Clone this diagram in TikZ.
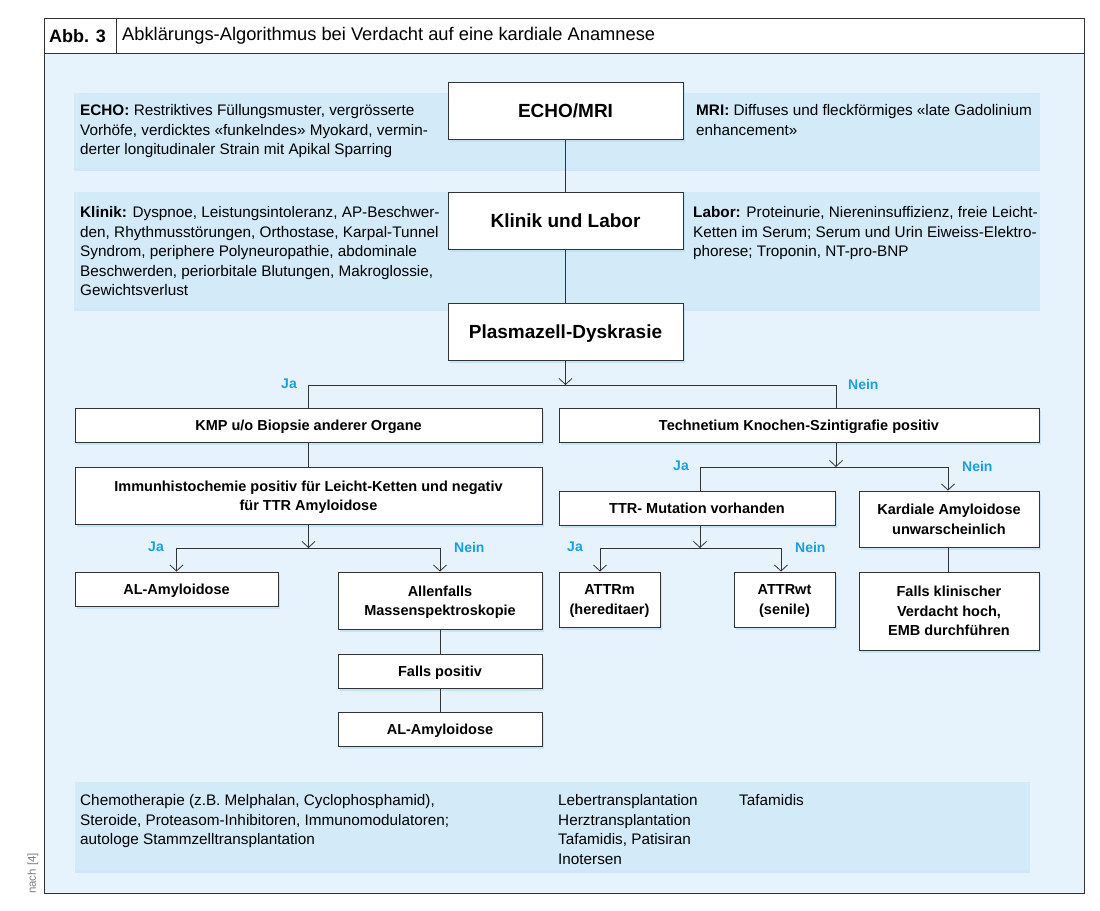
\documentclass[tikz,border=0pt]{standalone}
\usepackage{fontspec}
\setmainfont{Liberation Sans}
\usetikzlibrary{arrows.meta,shadows}
\definecolor{bgblue}{HTML}{E6F3FC}
\definecolor{panelblue}{HTML}{D3EAF9}
\definecolor{shadowblue}{HTML}{B9DDF6}
\definecolor{labblue}{HTML}{1A9FE0}
\definecolor{linegray}{HTML}{333333}
\begin{document}
\begin{tikzpicture}[x=1pt,y=-1pt,
  box/.style={draw=linegray, line width=0.9pt, fill=white, align=center,
    font=\bfseries\fontsize{14.5}{19.5}\selectfont, inner sep=0pt, text depth=0pt,
    drop shadow={shadow xshift=2pt,shadow yshift=-3pt,fill=shadowblue,opacity=0.7}},
  bigbox/.style={box, font=\bfseries\fontsize{19}{22}\selectfont},
  conn/.style={draw=linegray, line width=0.8pt},
  arr/.style={conn, -{Straight Barb[length=6pt,width=13pt]}},
  lab/.style={text=labblue, font=\bfseries\fontsize{14}{16}\selectfont, inner sep=0pt},
  ptext/.style={anchor=north west, align=left, inner sep=0pt, font=\fontsize{15.3}{19.5}\selectfont},
  panel/.style={fill=panelblue, draw=none,
    drop shadow={shadow xshift=0pt,shadow yshift=-3pt,fill=shadowblue,opacity=0.5}}
]
\useasboundingbox (0,0) rectangle (1100,910);
\fill[white] (0,0) rectangle (1100,910);
% frame
\draw[linegray, line width=1pt, fill=bgblue] (44,53) rectangle (1084,893);
\draw[linegray, line width=1pt, fill=white] (44,18) rectangle (1084,53);
\draw[linegray, line width=1pt] (116,18) -- (116,53);
\node[anchor=west, inner sep=0pt, font=\bfseries\fontsize{18}{20}\selectfont] (abb) at (49,36) {Abb. 3};
\node[anchor=west, inner sep=0pt, font=\fontsize{18.3}{20}\selectfont] (title) at (122,36) {Abklärungs-Algorithmus bei Verdacht auf eine kardiale Anamnese};
\node[rotate=90, anchor=west, inner sep=0pt, text=gray, font=\fontsize{11.5}{12}\selectfont] (src) at (33,894) {nach [4]};

% panels
\path[panel] (74,93) rectangle (1040,168);
\path[panel] (74,192) rectangle (1040,308);
\path[panel] (75,782) rectangle (1030,870);

\node[ptext] (echotxt) at (80,104.5) {\textbf{ECHO:} Restriktives Füllungsmuster, vergrösserte\\Vorhöfe, verdicktes «funkelndes» Myokard, vermin-\\derter longitudinaler Strain mit Apikal Sparring};
\node[ptext] (mritxt) at (696,104.5) {\textbf{MRI:} Diffuses und fleckförmiges «late Gadolinium\\enhancement»};
\node[ptext] (klintxt) at (80,206.5) {\textbf{Klinik:} Dyspnoe, Leistungsintoleranz, AP-Beschwer-\\den, Rhythmusstörungen, Orthostase, Karpal-Tunnel\\Syndrom, periphere Polyneuropathie, abdominale\\Beschwerden, periorbitale Blutungen, Makroglossie,\\Gewichtsverlust};
\node[ptext] (labtxt) at (693,206.5) {\textbf{Labor:} Proteinurie, Niereninsuffizienz, freie Leicht-\\Ketten im Serum; Serum und Urin Eiweiss-Elektro-\\phorese; Troponin, NT-pro-BNP};
\node[ptext] (th1) at (80,794.5) {Chemotherapie (z.B. Melphalan, Cyclophosphamid),\\Steroide, Proteasom-Inhibitoren, Immunomodulatoren;\\autologe Stammzelltransplantation};
\node[ptext] (th2) at (558,794.5) {Lebertransplantation\\Herztransplantation\\Tafamidis, Patisiran\\Inotersen};
\node[ptext] (th3) at (739,794.5) {Tafamidis};

% boxes
\node[bigbox, minimum width=235pt, minimum height=57pt] (echo) at (565.5,110.5) {ECHO/MRI};
\node[bigbox, minimum width=235pt, minimum height=57pt] (klinik) at (565.5,220.5) {Klinik und Labor};
\node[bigbox, minimum width=235pt, minimum height=57pt] (plasma) at (565.5,331.5) {Plasmazell-Dyskrasie};
\node[box, minimum width=467pt, minimum height=34pt] (kmp) at (308.5,425) {KMP u/o Biopsie anderer Organe};
\node[box, minimum width=480pt, minimum height=34pt] (tech) at (799,425) {Technetium Knochen-Szintigrafie positiv};
\node[box, minimum width=467pt, minimum height=57pt] (immun) at (308.5,495.5) {Immunhistochemie positiv für Leicht-Ketten und negativ\\für TTR Amyloidose};
\node[box, minimum width=276pt, minimum height=34pt] (ttr) at (697,508) {TTR- Mutation vorhanden};
\node[box, minimum width=180pt, minimum height=56pt] (kard) at (949,519) {Kardiale Amyloidose\\unwarscheinlich};
\node[box, minimum width=203pt, minimum height=34pt] (al1) at (176.5,589) {AL-Amyloidose};
\node[box, minimum width=204pt, minimum height=57pt] (allen) at (440,600.5) {Allenfalls\\Massenspektroskopie};
\node[box, minimum width=204pt, minimum height=34pt] (falls) at (440,671) {Falls positiv};
\node[box, minimum width=204pt, minimum height=34pt] (al2) at (440,729) {AL-Amyloidose};
\node[box, minimum width=101pt, minimum height=55pt] (attrm) at (609.5,599.5) {ATTRm\\(hereditaer)};
\node[box, minimum width=101pt, minimum height=55pt] (attrwt) at (784.5,599.5) {ATTRwt\\(senile)};
\node[box, minimum width=180pt, minimum height=78pt] (fallsk) at (949,611) {Falls klinischer\\Verdacht hoch,\\EMB durchführen};

% branch coordinates
\coordinate (b1) at (565.5,385);
\coordinate (b1l) at (308.5,385);
\coordinate (b1r) at (836,385);
\coordinate (b2) at (836,467);
\coordinate (b2l) at (700,467);
\coordinate (b2r) at (948,467);
\coordinate (b3) at (308.5,548);
\coordinate (b3l) at (176.5,548);
\coordinate (b3r) at (440,548);
\coordinate (b4) at (700,548);
\coordinate (b4l) at (600,548);
\coordinate (b4r) at (781,548);

% connectors
\draw[conn] (echo) -- (klinik);
\draw[conn] (klinik) -- (plasma);
\draw[arr] (plasma) -- (b1);
\draw[conn] (kmp.north) |- (b1r) -- (b1r |- tech.north);
\draw[arr] (tech.south -| b2) -- (b2);
\draw[conn] (ttr.north -| b2l) |- (b2r);
\draw[arr] (b2r) -- (b2r |- kard.north);
\draw[conn] (kmp) -- (immun);
\draw[arr] (immun) -- (b3);
\draw[conn] (b3l) -- (b3r);
\draw[arr] (b3l) -- (al1);
\draw[arr] (b3r) -- (allen);
\draw[conn] (allen) -- (falls);
\draw[conn] (falls) -- (al2);
\draw[arr] (ttr.south -| b4) -- (b4);
\draw[conn] (b4l) -- (b4r);
\draw[arr] (b4l) -- (b4l |- attrm.north);
\draw[arr] (b4r) -- (b4r |- attrwt.north);
\draw[conn] (kard.south -| b2r) -- (b2r |- fallsk.north);

% labels
\node[lab, anchor=east] (ja1) at (297,384) {Ja};
\node[lab, anchor=west] (nein1) at (848,384) {Nein};
\node[lab, anchor=east] (ja2) at (689,466) {Ja};
\node[lab, anchor=west] (nein2) at (962,466) {Nein};
\node[lab, anchor=east] (ja3) at (164,547) {Ja};
\node[lab, anchor=west] (nein3) at (454,547) {Nein};
\node[lab, anchor=east] (ja4) at (583,547) {Ja};
\node[lab, anchor=west] (nein4) at (795,547) {Nein};
\end{tikzpicture}
\end{document}
